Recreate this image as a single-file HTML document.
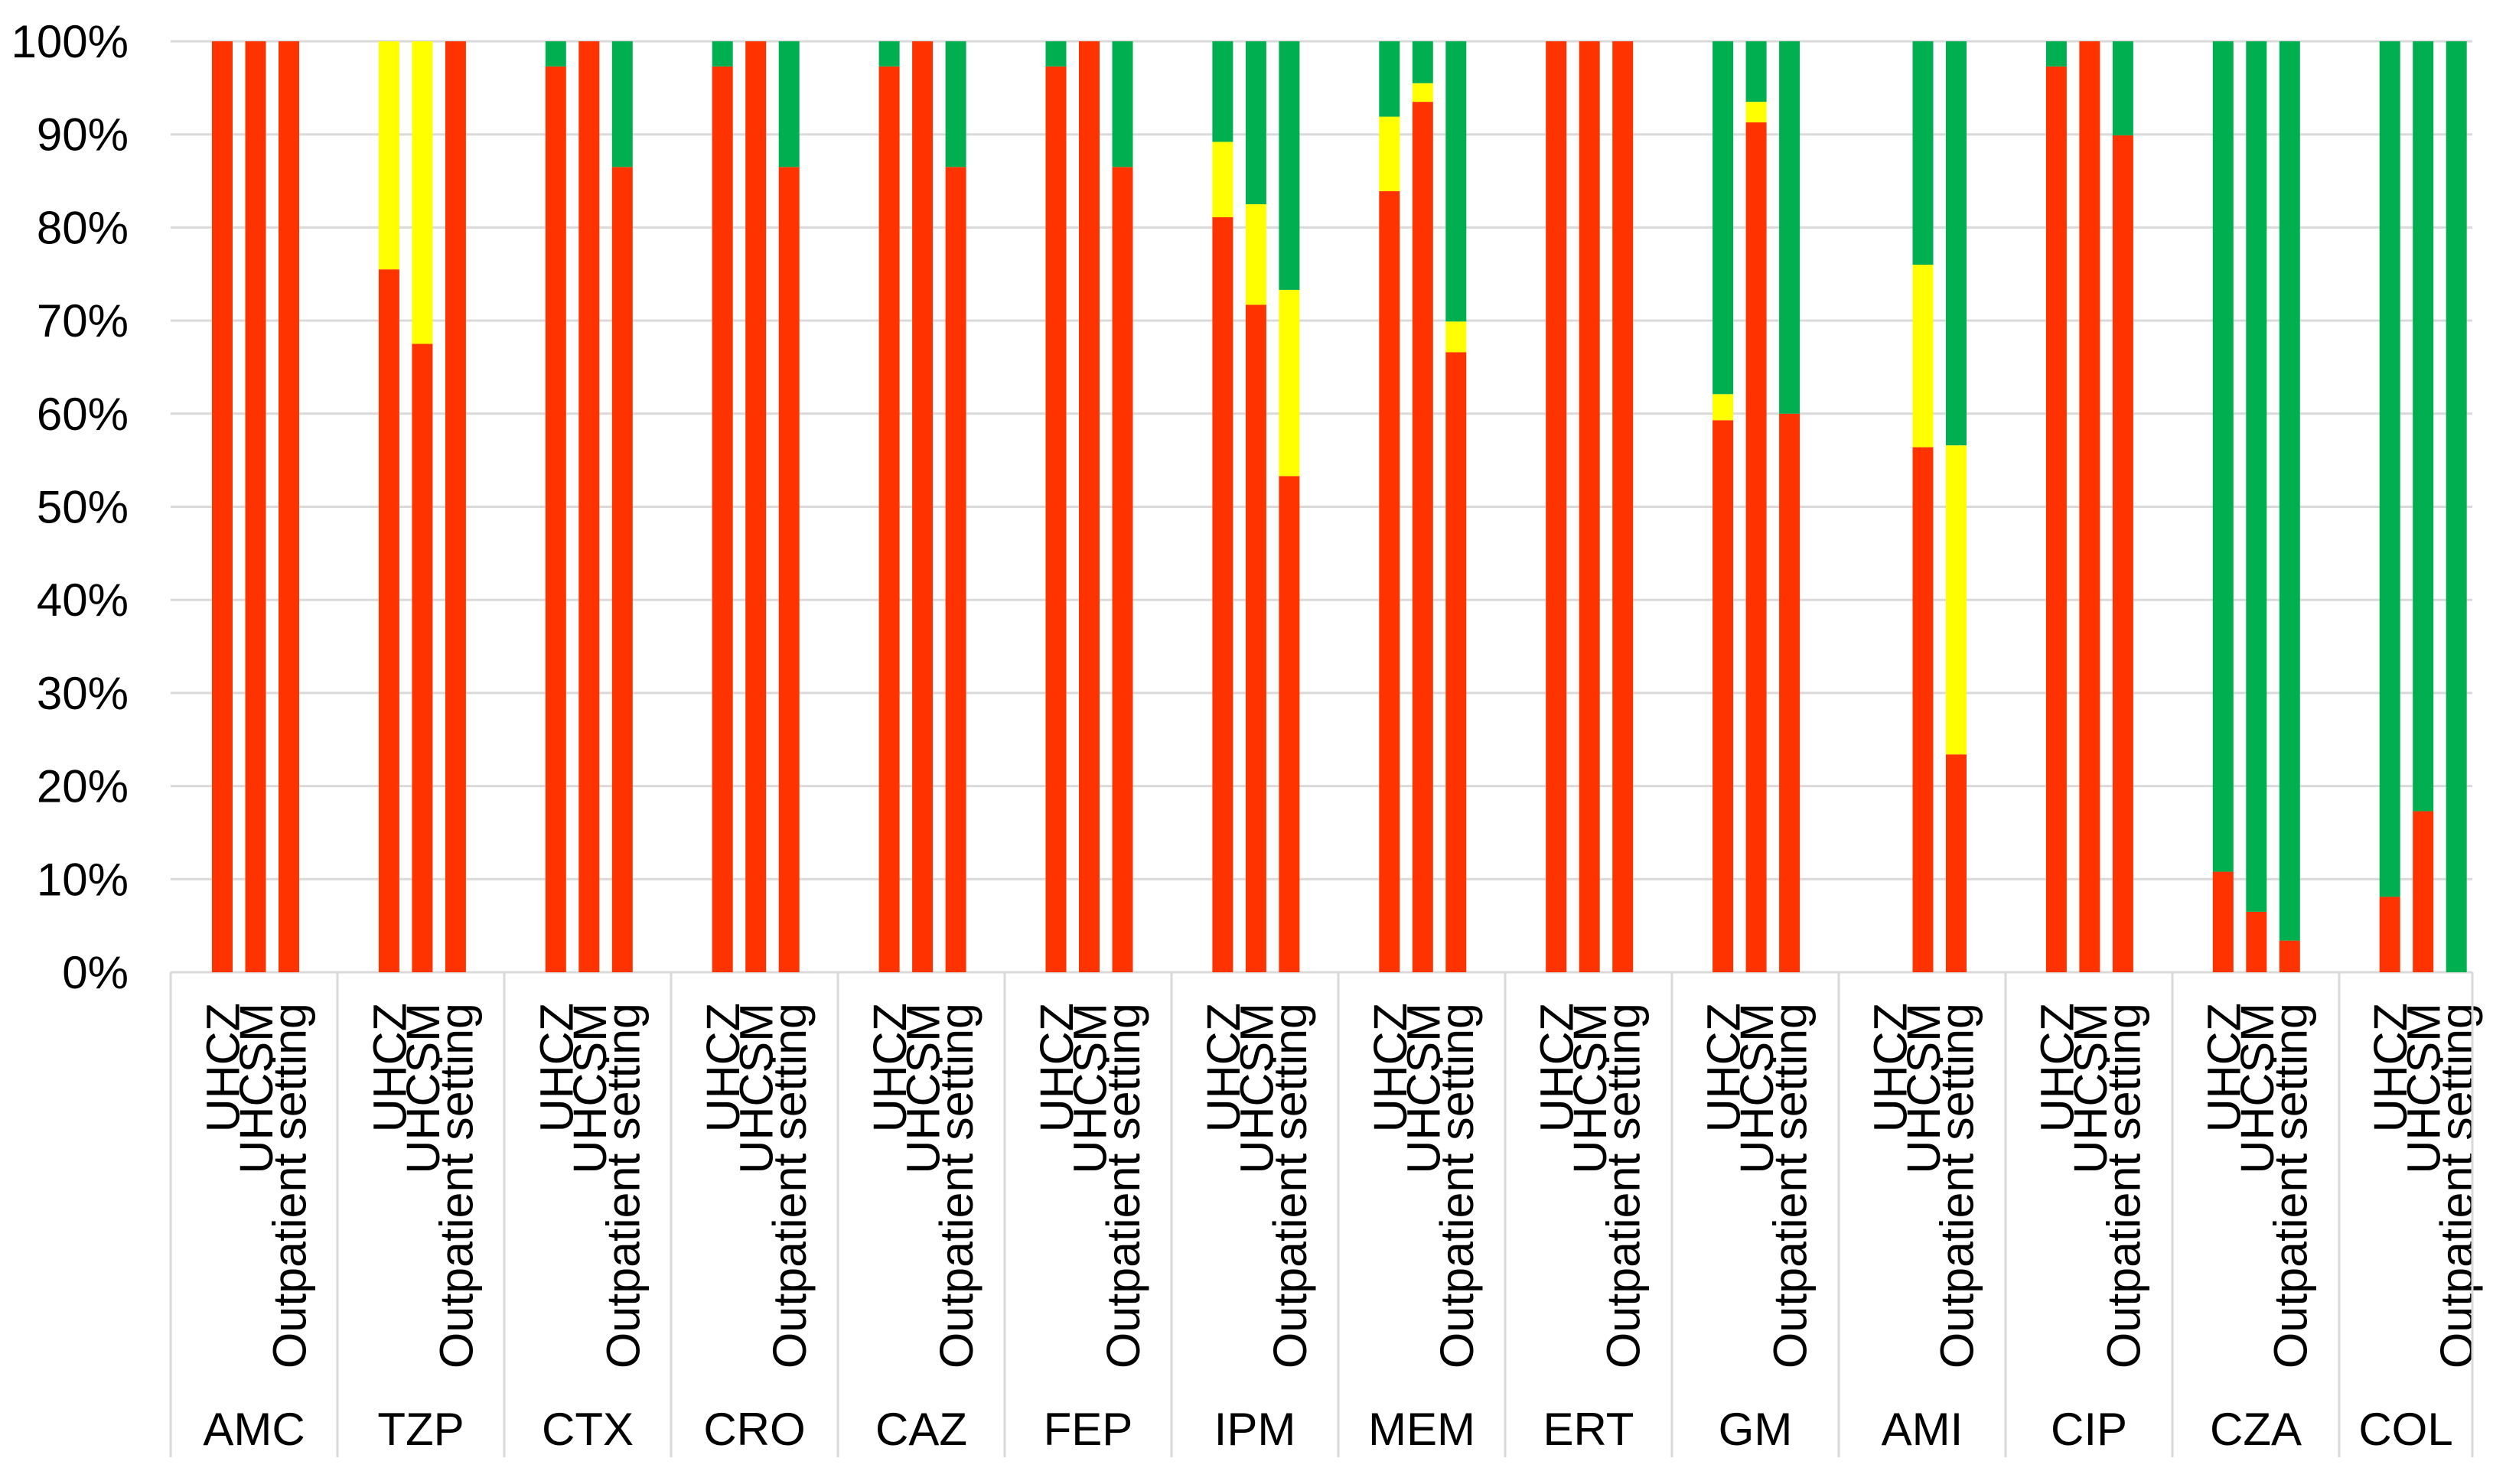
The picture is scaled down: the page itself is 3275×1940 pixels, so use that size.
<!DOCTYPE html>
<html><head><meta charset="utf-8"><style>
html,body{margin:0;padding:0;background:#fff}
svg{display:block}
text{font-family:"Liberation Sans",Arial,sans-serif;fill:#000}
</style></head><body>
<svg id="chart" width="3275" height="1940" viewBox="0 0 3275 1940" xmlns="http://www.w3.org/2000/svg">
<g id="grid"></g>
<g id="yaxis"></g>
<g id="bars"></g>
<g id="xaxis"></g>
</svg>
<script>
const categories = ["AMC","TZP","CTX","CRO","CAZ","FEP","IPM","MEM","ERT","GM","AMI","CIP","CZA","COL"];
const settings = ["UHCZ","UHCSM","Outpatient setting"];
const yTicks = [0,10,20,30,40,50,60,70,80,90,100];
const yTickLabels = ["0%","10%","20%","30%","40%","50%","60%","70%","80%","90%","100%"];
// segment sizes (%) per category, per setting [UHCZ, UHCSM, Outpatient]
const redVals = [
 [100,100,100],[75.5,67.5,100],[97.3,100,86.5],[97.3,100,86.5],[97.3,100,86.5],[97.3,100,86.5],
 [81.1,71.7,53.3],[83.9,93.5,66.6],[100,100,100],[59.3,91.3,60],[0,56.4,23.4],[97.3,100,89.9],
 [10.8,6.5,3.4],[8.1,17.3,0]];
const yellowVals = [
 [0,0,0],[24.5,32.5,0],[0,0,0],[0,0,0],[0,0,0],[0,0,0],
 [8.1,10.8,20],[8,2,3.3],[0,0,0],[2.8,2.2,0],[0,19.6,33.2],[0,0,0],
 [0,0,0],[0,0,0]];
const greenVals = [
 [0,0,0],[0,0,0],[2.7,0,13.5],[2.7,0,13.5],[2.7,0,13.5],[2.7,0,13.5],
 [10.8,17.5,26.7],[8.1,4.5,30.1],[0,0,0],[37.9,6.5,40],[0,24,43.4],[2.7,0,10.1],
 [89.2,93.5,96.6],[91.9,82.7,100]];

const NS="http://www.w3.org/2000/svg";
const X0=223, XR=3231, Y0=1271, Y100=54;
const yS = v => Y0 - (Y0-Y100)*v/100;
const groupW = 217.9;
const groupLeft = i => Math.min(X0 + 218*i, XR);
const barX = (i,j) => 277 + groupW*i + 43.5*j;
const BW = 27;
function mk(tag, attrs, parent){const e=document.createElementNS(NS,tag);for(const k in attrs)e.setAttribute(k,attrs[k]);parent.appendChild(e);return e;}
const grid=document.getElementById('grid'), yaxis=document.getElementById('yaxis'), bars=document.getElementById('bars'), xaxis=document.getElementById('xaxis');

yTicks.forEach((t,k)=>{
  const l=mk('line',{x1:X0,x2:XR,y1:yS(t),y2:yS(t),stroke:'#d9d9d9','stroke-width':3},grid);
  
  
  const tx=mk('text',{x:168,y:yS(t)+21,'text-anchor':'end','font-size':60},yaxis);
  tx.textContent=yTickLabels[k];
  
  
});

const colors=['#FF3300','#FFFF00','#00B050'];
const segNames=['red','yellow','green'];
categories.forEach((c,i)=>{
  for(let j=0;j<3;j++){
    let base=0;
    [redVals[i][j],yellowVals[i][j],greenVals[i][j]].forEach((v,s)=>{
      if(v>0){
        const r=mk('rect',{x:barX(i,j),y:yS(base+v),width:BW,height:yS(base)-yS(base+v),fill:colors[s]},bars);
        
        
      }
      base+=v;
    });
    const t=mk('text',{x:0,y:0,'text-anchor':'end','font-size':61,transform:`translate(${barX(i,j)+35.5},1311) rotate(-90)`},xaxis);
    t.textContent=settings[j];
    
    
  }
  const gl=groupLeft(i), gr=(i===categories.length-1)?XR:groupLeft(i+1);
  const ct=mk('text',{x:(gl+gr)/2,y:1889,'text-anchor':'middle','font-size':60},xaxis);
  ct.textContent=c;
  
  
});
for(let i=0;i<=categories.length;i++){
  const x=(i===categories.length)?XR:groupLeft(i);
  const l=mk('line',{x1:x,x2:x,y1:Y0,y2:1905,stroke:'#d9d9d9','stroke-width':3},xaxis);
  
  
}
</script>
</body></html>
